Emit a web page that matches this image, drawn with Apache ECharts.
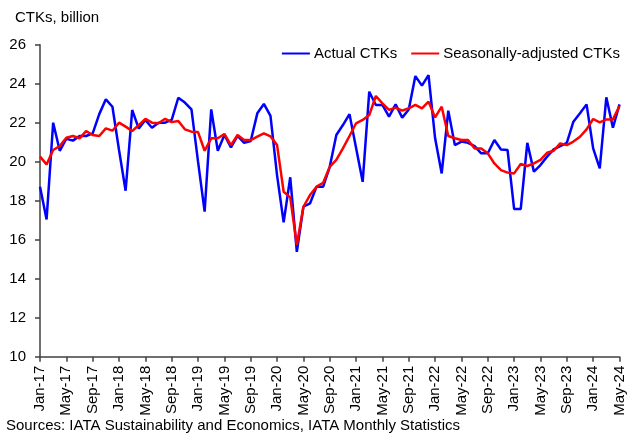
<!DOCTYPE html>
<html>
<head>
<meta charset="utf-8">
<script src="https://cdn.jsdelivr.net/npm/echarts@6/dist/echarts.min.js"></script>
<style>html,body{margin:0;padding:0;background:#fff}#c{width:627px;height:439px}</style>
</head>
<body>
<div id="c"></div>
<script>
const months = ['Jan','Feb','Mar','Apr','May','Jun','Jul','Aug','Sep','Oct','Nov','Dec'];
const categories = [];
for (let y = 17; y <= 24; y++) {
  for (let m = 0; m < 12; m++) {
    if (y === 24 && m > 4) break;
    categories.push(months[m] + '-' + y);
  }
}
const actualCTKs = [
  18.72, 17.04, 22.0, 20.56, 21.18, 21.08, 21.32, 21.32, 21.45, 22.44, 23.2, 22.82,
  20.6, 18.51, 22.65, 21.7, 22.14, 21.74, 22.0, 22.0, 22.14, 23.28, 23.03, 22.68,
  20.0, 17.44, 22.68, 20.56, 21.37, 20.73, 21.32, 20.97, 21.06, 22.48, 22.96, 22.35,
  19.3, 16.89, 19.2, 15.38, 17.69, 17.86, 18.72, 18.72, 19.74, 21.37, 21.88, 22.44,
  20.7, 18.97, 23.59, 22.91, 22.91, 22.31, 22.94, 22.26, 22.68, 24.39, 23.9, 24.44,
  21.2, 19.4, 22.62, 20.85, 21.03, 20.97, 20.8, 20.43, 20.43, 21.11, 20.63, 20.6,
  17.57, 17.57, 20.97, 19.49, 19.83, 20.26, 20.63, 20.8, 20.97, 22.05, 22.48, 22.94,
  20.68, 19.66, 23.3, 21.74, 22.94
];
const seasonallyAdjusted = [
  20.26, 19.86, 20.6, 20.8, 21.23, 21.32, 21.2, 21.57, 21.37, 21.32, 21.71, 21.59,
  22.0, 21.8, 21.57, 21.88, 22.2, 22.0, 21.97, 22.2, 22.03, 22.09, 21.66, 21.54,
  21.52, 20.56, 21.2, 21.2, 21.42, 20.85, 21.37, 21.11, 21.11, 21.28, 21.45, 21.3,
  20.85, 18.46, 18.17, 15.73, 17.69, 18.29, 18.72, 18.92, 19.74, 20.09, 20.68, 21.32,
  21.97, 22.14, 22.39, 23.37, 22.99, 22.66, 22.77, 22.62, 22.74, 22.91, 22.74, 23.08,
  22.27, 22.82, 21.32, 21.2, 21.11, 21.11, 20.68, 20.68, 20.43, 19.91, 19.57, 19.44,
  19.4, 19.88, 19.78, 19.91, 20.09, 20.46, 20.56, 20.94, 20.85, 21.03, 21.28, 21.66,
  22.19, 22.02, 22.17, 22.17, 22.85
];
const yTicks = [10, 12, 14, 16, 18, 20, 22, 24, 26];

const FONT = 'Liberation Sans, Arial, sans-serif';
const chart = echarts.init(document.getElementById('c'), null, {renderer: 'canvas'});
chart.setOption({
  animation: false,
  backgroundColor: '#ffffff',
  textStyle: {fontFamily: FONT, color: '#000'},
  title: {
    text: 'CTKs, billion', left: 10, top: 5,
    textStyle: {fontFamily: FONT, fontSize: 15, fontWeight: 'normal', color: '#000'}
  },
  legend: {
    right: 2, top: 41, itemGap: 14, itemWidth: 28, itemHeight: 2, icon: 'rect',
    textStyle: {fontFamily: FONT, fontSize: 15, color: '#000', padding: [0, 0, 0, -1]},
    data: ['Actual CTKs', 'Seasonally-adjusted CTKs']
  },
  grid: {left: 40, right: 4, top: 44.7, bottom: 82.3, containLabel: false},
  xAxis: {
    type: 'category', data: categories, boundaryGap: false,
    axisLine: {lineStyle: {color: '#404040', width: 1.5}},
    axisTick: {show: true, interval: 3, length: 5, lineStyle: {color: '#404040', width: 1.5}},
    axisLabel: {interval: 3, rotate: 90, margin: 9, fontFamily: FONT, fontSize: 15, color: '#000'},
    splitLine: {show: false}
  },
  yAxis: {
    type: 'value', min: yTicks[0], max: yTicks[yTicks.length - 1], interval: 2,
    axisLine: {show: true, lineStyle: {color: '#404040', width: 1.5}},
    axisTick: {show: true, length: 5, lineStyle: {color: '#404040', width: 1.5}},
    axisLabel: {margin: 14, fontFamily: FONT, fontSize: 15, color: '#000'},
    splitLine: {show: false}
  },
  series: [
    {name: 'Actual CTKs', type: 'line', data: actualCTKs, symbol: 'none',
     lineStyle: {color: '#0000ff', width: 2.5}, itemStyle: {color: '#0000ff'}, z: 2},
    {name: 'Seasonally-adjusted CTKs', type: 'line', data: seasonallyAdjusted, symbol: 'none',
     lineStyle: {color: '#ff0000', width: 2.5}, itemStyle: {color: '#ff0000'}, z: 3}
  ],
  graphic: [{
    type: 'text', left: 6, top: 418,
    style: {text: 'Sources: IATA Sustainability and Economics, IATA Monthly Statistics',
            font: '15px ' + FONT, fill: '#000'}
  }]
});
</script>
</body>
</html>
